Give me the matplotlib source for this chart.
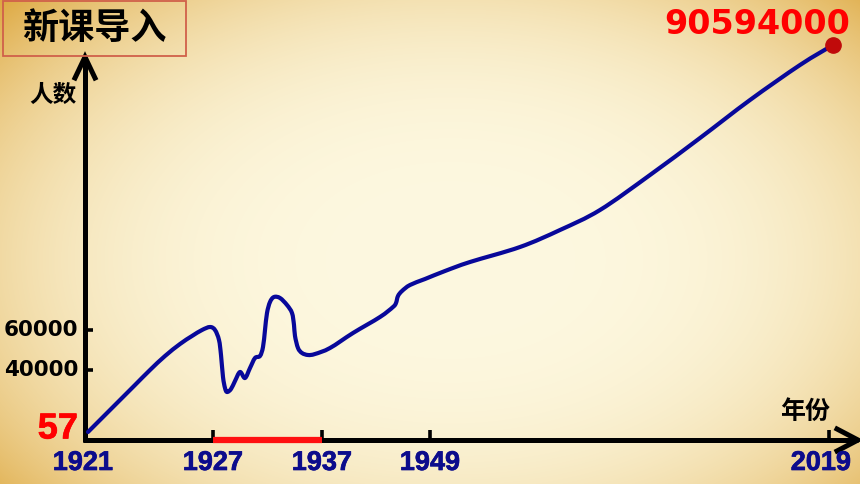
import numpy as np
import matplotlib
matplotlib.use("Agg")
import matplotlib.pyplot as plt
from matplotlib.patches import Rectangle, PathPatch
from matplotlib.path import Path
import matplotlib.patheffects as pe

# ---- data (schematic units) ----
year_labels = ["1921", "1927", "1937", "1949", "2019"]
year_pos = [0, 127, 236, 344, 743]
y_tick_labels = ["60000", "40000"]
y_tick_pos = [109, 69]
start_label = "57"
start_level = 10
end_label = "90594000"

curve_x = [2, 19, 34, 49, 64, 79, 94, 106, 116, 124, 129, 133, 135, 137, 139, 141, 145, 149, 154, 159,
           164, 169, 174, 177, 179, 181, 184, 188, 194, 201, 206, 208, 209, 212, 216, 222, 229, 244, 267, 294,
           307, 310, 312, 316, 324, 339, 359, 384, 434, 474, 514, 564, 614, 664, 714, 747]
curve_y = [7, 24, 39, 54, 69, 83, 95, 103, 109, 112, 109, 99, 84, 62, 51, 47, 50, 58, 67, 61,
           71, 81, 83, 92, 109, 126, 137, 142, 141, 134, 126, 114, 103, 91, 86, 84, 85, 91, 106, 122,
           132, 136, 143, 148, 154, 160, 168, 177, 192, 209, 229, 264, 301, 339, 374, 394]
highlight_span = [127, 236]

W, H = 860, 484
ox, oy = 86, 439  # axis origin in pixels

fig = plt.figure(figsize=(8.6, 4.84), dpi=100)
ax = fig.add_axes([0, 0, 1, 1])
ax.set_xlim(-ox, W - ox)
ax.set_ylim(oy - H, oy)
ax.axis("off")

# parchment background
yy, xx = np.mgrid[0:H, 0:W]
d = np.sqrt(((xx - 450) / 520.0) ** 2 + ((yy - 260) / 330.0) ** 2)
t = np.clip(d, 0, 1.3) ** 3.2
c0 = np.array([253, 248, 224]) / 255.0
c1 = np.array([234, 200, 128]) / 255.0
img = c0[None, None, :] * (1 - t[..., None]) + c1[None, None, :] * t[..., None]
img = np.clip(img, 0, 1)
ax.imshow(img, extent=(-ox, W - ox, oy - H, oy), aspect="auto", zorder=0)

# axes lines
lw_ax = 3.6
ax.plot([-3, 772], [-1, -1], color="black", lw=lw_ax, solid_capstyle="butt", zorder=2)
ax.plot([-1, -1], [-3, 382], color="black", lw=lw_ax, solid_capstyle="butt", zorder=2)
# arrowheads (chevrons)
ax.plot([751, 772, 751], [10, -1, -12], color="black", lw=lw_ax, solid_joinstyle="miter", zorder=2)
ax.plot([-11, -1, 9], [361, 382, 361], color="black", lw=lw_ax, solid_joinstyle="miter", zorder=2)

# x ticks
for p in year_pos[1:]:
    ax.plot([p, p], [-1, 9], color="black", lw=2.6, solid_capstyle="butt", zorder=2)
# highlight segment
ax.plot(highlight_span, [-1, -1], color="#ff1010", lw=4.5, solid_capstyle="butt", zorder=3)
# y ticks
for p in y_tick_pos:
    ax.plot([-1, 7], [p, p], color="black", lw=2.6, solid_capstyle="butt", zorder=2)

# curve drawn as a smooth path through the read points (Catmull-Rom -> cubic Bezier)
P = np.column_stack([curve_x, curve_y]).astype(float)
verts = [P[0]]
codes = [Path.MOVETO]
n = len(P)
for i in range(n - 1):
    p0 = P[i - 1] if i > 0 else P[i]
    p1 = P[i]
    p2 = P[i + 1]
    p3 = P[i + 2] if i + 2 < n else P[i + 1]
    c1p = p1 + (p2 - p0) / 6.0
    c2p = p2 - (p3 - p1) / 6.0
    verts += [c1p, c2p, p2]
    codes += [Path.CURVE4] * 3
ax.add_patch(PathPatch(Path(verts, codes), facecolor="none", edgecolor="#08089a",
                       lw=3.0, capstyle="round", joinstyle="round", zorder=4))
ax.plot([curve_x[-1]], [curve_y[-1]], "o", color="#c00a0a", ms=11, zorder=5)

bold_fx = lambda c, w: [pe.withStroke(linewidth=w, foreground=c)]

# labels
label_shift = [-3, 0, 0, 0, -8]
for lab, p, s in zip(year_labels, year_pos, label_shift):
    ax.text(p + s, -24, lab, ha="center", va="center", color="#0c0c8c",
            fontsize=19.5, fontweight="bold", family="Liberation Sans", zorder=5,
            path_effects=bold_fx("#0c0c8c", 0.5))
for lab, p in zip(y_tick_labels, y_tick_pos):
    ax.text(-8, p, lab, ha="right", va="center", color="black",
            fontsize=15.5, fontweight="bold", family="DejaVu Sans", zorder=5)
ax.text(-8, start_level, start_label, ha="right", va="center", color="#ff0000",
        fontsize=26, fontweight="bold", family="Liberation Sans", zorder=5,
        path_effects=bold_fx("#ff0000", 0.5))
ax.text(764, 414, end_label, ha="right", va="center", color="#ff0000",
        fontsize=24, fontweight="bold", family="DejaVu Sans", zorder=5)

cjk = ["Noto Sans CJK SC", "DejaVu Sans"]
ax.text(-33, 344, "人数", ha="center", va="center", color="black",
        fontsize=17, fontweight="bold", family=cjk, zorder=5)
ax.text(719, 27, "年份", ha="center", va="center", color="black",
        fontsize=18, fontweight="bold", family=cjk, zorder=5)
ax.add_patch(Rectangle((-83, 383), 183, 55, facecolor="none", edgecolor="#d0604a",
                       lw=1.3, zorder=5))
ax.text(8, 411, "新课导入", ha="center", va="center", color="black",
        fontsize=26, fontweight="bold", family=cjk, zorder=6)

fig.savefig("out.png", dpi=100)
